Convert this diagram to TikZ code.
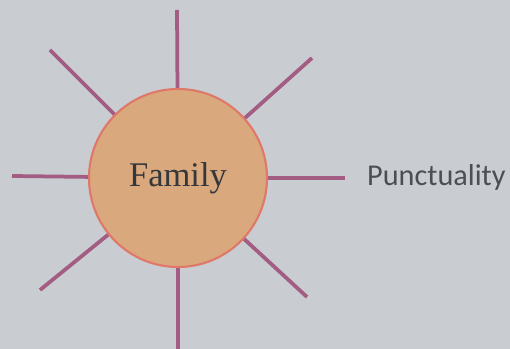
\documentclass[tikz,border=0pt]{standalone}
\usepackage{fontspec}
\usepackage{xcolor}
\usepackage{tikz}
\setmainfont{Liberation Serif}
\newfontfamily\labelfont{Carlito}
\definecolor{paper}{HTML}{C9CDD2}
\definecolor{sunfill}{HTML}{D9A87C}
\definecolor{sunedge}{HTML}{E0786A}
\definecolor{raycol}{HTML}{A35C82}
\definecolor{inkcol}{HTML}{4B4E56}

\begin{document}
\begin{tikzpicture}[
    x=0.03cm, y=-0.03cm,
    sun/.style={circle,draw=sunedge,fill=sunfill,line width=1.8pt,minimum size=5.34cm,inner sep=0pt,font=\fontsize{29.5}{32}\selectfont,text=inkcol!70!black},
    ray/.style={draw=raycol,line width=3.2pt},
    word/.style={anchor=west,inner sep=0pt,font=\labelfont\fontsize{25.8}{28}\selectfont,text=inkcol}
]
\fill[paper] (0,0) rectangle (510,349);
\useasboundingbox (0,0) rectangle (510,349);
\coordinate (top) at (177,10);
\coordinate (bottom) at (178,349);
\coordinate (left) at (12,176);
\coordinate (right) at (345,178);
\coordinate (ul) at (50,50);
\coordinate (ur) at (312,58);
\coordinate (ll) at (40,290);
\coordinate (lr) at (307,297);
\node[sun] (family) at (178,178) {Family};
\node[word] (punct) at (367,177) {Punctuality};
\draw[ray] (family) -- (top);
\draw[ray] (family) -- (bottom);
\draw[ray] (family) -- (left);
\draw[ray] (family) -- (right);
\draw[ray] (family) -- (ul);
\draw[ray] (family) -- (ur);
\draw[ray] (family) -- (ll);
\draw[ray] (family) -- (lr);
\end{tikzpicture}
\end{document}
